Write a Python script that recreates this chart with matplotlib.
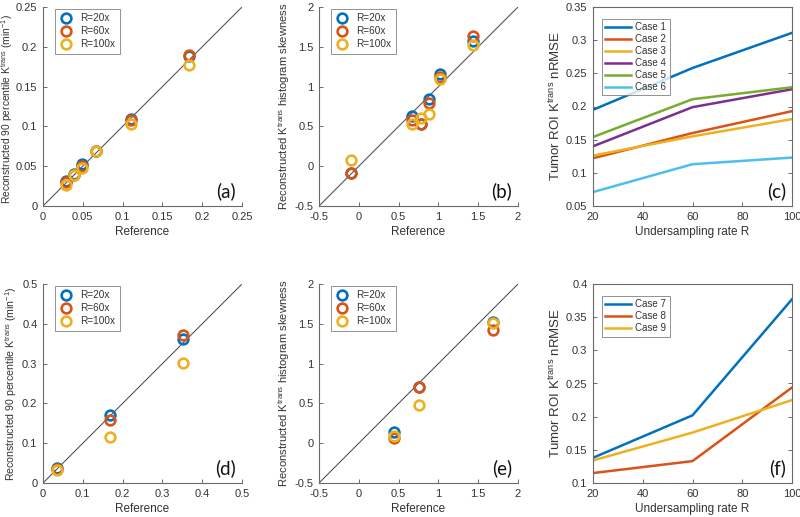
import matplotlib
matplotlib.use("Agg")
import matplotlib.pyplot as plt
from matplotlib.ticker import FuncFormatter, MultipleLocator
import numpy as np

plt.rcParams['font.family'] = ['Liberation Sans', 'DejaVu Sans']
plt.rcParams['mathtext.fontset'] = 'custom'
plt.rcParams['mathtext.rm'] = 'Liberation Sans'
plt.rcParams['mathtext.it'] = 'Liberation Sans:italic'

# ---------------- data ----------------
series_labels = ['R=20x', 'R=60x', 'R=100x']

# (a) 90 percentile Ktrans, cases 1-6
a_ref = [0.029, 0.0385, 0.049, 0.066, 0.111, 0.183]
a_r20 = [0.032, 0.040, 0.0525, 0.069, 0.109, 0.188]
a_r60 = [0.030, 0.039, 0.050, 0.069, 0.108, 0.190]
a_r100 = [0.027, 0.039, 0.048, 0.069, 0.103, 0.177]

# (b) histogram skewness, cases 1-6
b_ref = [-0.10, 0.668, 0.777, 0.887, 1.022, 1.436]
b_r20 = [-0.09, 0.626, 0.53, 0.849, 1.16, 1.567]
b_r60 = [-0.09, 0.58, 0.525, 0.794, 1.126, 1.639]
b_r100 = [0.084, 0.525, 0.605, 0.66, 1.10, 1.521]

# (c) nRMSE vs undersampling, cases 1-6
R_vals = [20, 60, 100]
c_case_labels = ['Case 1', 'Case 2', 'Case 3', 'Case 4', 'Case 5', 'Case 6']
c_case1 = [0.195, 0.258, 0.311]
c_case2 = [0.122, 0.160, 0.193]
c_case3 = [0.126, 0.155, 0.181]
c_case4 = [0.140, 0.199, 0.226]
c_case5 = [0.154, 0.211, 0.229]
c_case6 = [0.071, 0.113, 0.123]

# (d) 90 percentile Ktrans, cases 7-9
d_ref = [0.036, 0.169, 0.352]
d_r20 = [0.037, 0.170, 0.363]
d_r60 = [0.036, 0.159, 0.372]
d_r100 = [0.032, 0.116, 0.301]

# (e) histogram skewness, cases 7-9
e_ref = [0.44, 0.76, 1.692]
e_r20 = [0.138, 0.70, 1.518]
e_r60 = [0.066, 0.70, 1.425]
e_r100 = [0.09, 0.477, 1.505]

# (f) nRMSE, cases 7-9
f_case_labels = ['Case 7', 'Case 8', 'Case 9']
f_case7 = [0.138, 0.202, 0.377]
f_case8 = [0.115, 0.133, 0.244]
f_case9 = [0.134, 0.176, 0.225]

colors = ['#0072BD', '#D95319', '#EDB120', '#7E2F8E', '#77AC30', '#4DBEEE']
axcol = '#6a6a6a'
txtcol = '#333333'

fig = plt.figure(figsize=(8.0, 5.17), dpi=100)
W, H = 800.0, 517.0

def make_ax(left, top, w=199, h=199):
    return fig.add_axes([left / W, 1 - (top + h) / H, w / W, h / H])

fmt = FuncFormatter(lambda v, p: ('%g' % round(v, 4)))

def style(ax, box=False):
    for s in ['left', 'bottom', 'top', 'right']:
        ax.spines[s].set_color(axcol)
        ax.spines[s].set_linewidth(0.8)
    if not box:
        ax.spines['top'].set_visible(False)
        ax.spines['right'].set_visible(False)
    ax.tick_params(direction='in', length=3, width=0.7, color=axcol,
                   labelsize=8, labelcolor=txtcol, top=False, right=box, pad=4)
    ax.xaxis.set_major_formatter(fmt)
    ax.yaxis.set_major_formatter(fmt)

def add_letter(ax, letter):
    ax.text(0.97, 0.03, letter, transform=ax.transAxes, ha='right', va='bottom',
            fontsize=13.5, color='#111111', family=['Lato', 'DejaVu Sans'])

def scatter_panel(ax, ref, ys, lim, step, ylabel, ylsize, letter):
    ax.plot(lim, lim, color='#555555', lw=0.8, zorder=1)
    for y, c, lab in zip(ys, colors[:3], series_labels):
        ax.plot(ref, y, 'o', mfc='none', mec=c, mew=1.9, ms=7, label=lab, zorder=3)
    ax.set_xlim(lim)
    ax.set_ylim(lim)
    ax.xaxis.set_major_locator(MultipleLocator(step))
    ax.yaxis.set_major_locator(MultipleLocator(step))
    style(ax)
    ax.set_xlabel('Reference', fontsize=8.5, color=txtcol, labelpad=3)
    ax.set_ylabel(ylabel, fontsize=ylsize, color=txtcol, labelpad=2)
    leg = ax.legend(loc='upper left', bbox_to_anchor=(0.06, 0.99), fontsize=7.2,
                    frameon=True, fancybox=False, borderpad=0.45, handletextpad=0.7,
                    labelspacing=0.3, borderaxespad=0, handlelength=1.4)
    leg.get_frame().set_edgecolor('#777777')
    leg.get_frame().set_linewidth(0.7)
    for t in leg.get_texts():
        t.set_color(txtcol)
    add_letter(ax, letter)

def line_panel(ax, series, labels, ylim, ystep, letter):
    for y, c, lab in zip(series, colors, labels):
        ax.plot(R_vals, y, '-', color=c, lw=1.8, label=lab)
    ax.set_xlim(20, 100)
    ax.set_ylim(ylim)
    ax.xaxis.set_major_locator(MultipleLocator(20))
    ax.yaxis.set_major_locator(MultipleLocator(ystep))
    style(ax, box=True)
    ax.set_xlabel('Undersampling rate R', fontsize=8.5, color=txtcol, labelpad=3)
    ax.set_ylabel(r'Tumor ROI K$^{\mathrm{trans}}$ nRMSE', fontsize=9.5, color=txtcol, labelpad=2)
    leg = ax.legend(loc='upper left', bbox_to_anchor=(0.045, 0.94), fontsize=7.0,
                    frameon=True, fancybox=False, borderpad=0.35, handletextpad=0.5,
                    labelspacing=0.2, borderaxespad=0, handlelength=2.6)
    leg.get_frame().set_edgecolor('#777777')
    leg.get_frame().set_linewidth(0.7)
    for t in leg.get_texts():
        t.set_color(txtcol)
    add_letter(ax, letter)

ylab_90 = r'Reconstructed 90 percentile K$^{\mathrm{trans}}$ (min$^{-1}$)'
ylab_sk = r'Reconstructed K$^{\mathrm{trans}}$ histogram skewness'

ax_a = make_ax(43, 7)
scatter_panel(ax_a, a_ref, [a_r20, a_r60, a_r100], [0, 0.25], 0.05, ylab_90, 7.4, '(a)')
ax_a.yaxis.set_label_coords(-0.14, 0.485)

ax_b = make_ax(319, 7)
scatter_panel(ax_b, b_ref, [b_r20, b_r60, b_r100], [-0.5, 2], 0.5, ylab_sk, 8.1, '(b)')

ax_c = make_ax(593, 7)
line_panel(ax_c, [c_case1, c_case2, c_case3, c_case4, c_case5, c_case6], c_case_labels,
           [0.05, 0.35], 0.05, '(c)')

ax_d = make_ax(43, 284)
scatter_panel(ax_d, d_ref, [d_r20, d_r60, d_r100], [0, 0.5], 0.1, ylab_90, 7.6, '(d)')

ax_e = make_ax(319, 284)
scatter_panel(ax_e, e_ref, [e_r20, e_r60, e_r100], [-0.5, 2], 0.5, ylab_sk, 8.1, '(e)')

ax_f = make_ax(593, 284)
line_panel(ax_f, [f_case7, f_case8, f_case9], f_case_labels, [0.1, 0.4], 0.05, '(f)')

fig.savefig('out.png', dpi=100, facecolor='white')
